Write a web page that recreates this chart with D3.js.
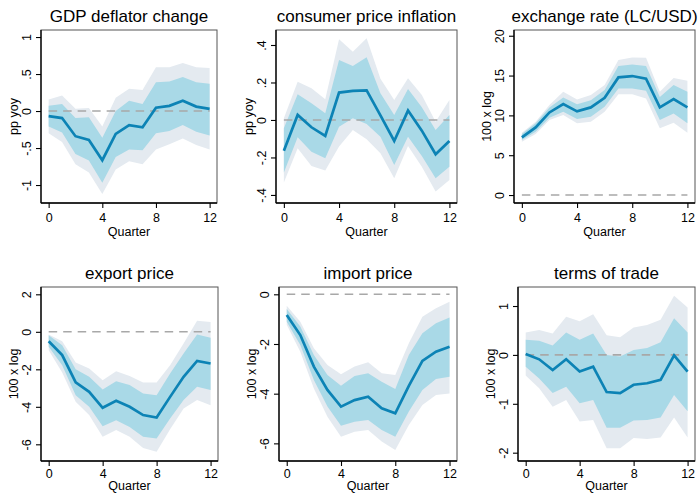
<!DOCTYPE html>
<html>
<head>
<meta charset="utf-8">
<script src="https://cdn.jsdelivr.net/npm/d3@7"></script>
<style>
  html, body { margin: 0; padding: 0; background: #fff; }
  svg { display: block; font-family: "Liberation Sans", Arial, Helvetica, sans-serif; }
</style>
</head>
<body>
<svg id="chart" width="700" height="494"></svg>
<script>
// Impulse responses: median with 68% and 90% bands, quarters 0..12
const quarters = [0, 1, 2, 3, 4, 5, 6, 7, 8, 9, 10, 11, 12];
const xTicks = [0, 4, 8, 12];

const titles = ["GDP deflator change", "consumer price inflation", "exchange rate (LC/USD)",
                "export price", "import price", "terms of trade"];
const yTitles = ["pp yoy", "pp yoy", "100 x log", "100 x log", "100 x log", "100 x log"];

// GDP deflator change
const gdpMid  = [-0.07, -0.095, -0.34, -0.39, -0.665, -0.31, -0.19, -0.22, 0.045, 0.07, 0.14, 0.06, 0.03];
const gdpHi68 = [0.07, 0.095, -0.095, -0.085, -0.36, 0.0, 0.14, 0.095, 0.39, 0.40, 0.46, 0.39, 0.37];
const gdpLo68 = [-0.21, -0.29, -0.58, -0.67, -0.97, -0.62, -0.52, -0.53, -0.30, -0.27, -0.19, -0.28, -0.33];
const gdpHi90 = [0.155, 0.21, 0.03, 0.04, -0.21, 0.18, 0.30, 0.285, 0.59, 0.59, 0.65, 0.59, 0.58];
const gdpLo90 = [-0.30, -0.42, -0.72, -0.83, -1.12, -0.79, -0.68, -0.72, -0.52, -0.45, -0.37, -0.46, -0.52];

// consumer price inflation
const cpiMid  = [-0.164, 0.027, -0.039, -0.085, 0.146, 0.155, 0.158, 0.025, -0.112, 0.05, -0.057, -0.183, -0.112];
const cpiHi68 = [-0.044, 0.137, 0.089, 0.036, 0.32, 0.288, 0.334, 0.142, 0.027, 0.165, 0.068, -0.053, 0.027];
const cpiLo68 = [-0.28, -0.092, -0.169, -0.204, -0.036, 0.009, -0.021, -0.089, -0.24, -0.089, -0.192, -0.311, -0.249];
const cpiHi90 = [0.009, 0.204, 0.169, 0.11, 0.43, 0.364, 0.436, 0.22, 0.107, 0.222, 0.133, -0.009, 0.107];
const cpiLo90 = [-0.334, -0.151, -0.245, -0.27, -0.142, -0.053, -0.103, -0.178, -0.311, -0.139, -0.249, -0.382, -0.32];

// exchange rate (LC/USD)
const fxMid  = [7.24, 8.49, 10.37, 11.42, 10.5, 11.0, 12.2, 14.77, 14.94, 14.6, 11.0, 12.05, 11.0];
const fxHi68 = [7.66, 9.0, 11.0, 12.26, 11.4, 11.9, 13.2, 16.2, 16.4, 16.2, 12.3, 13.8, 12.97];
const fxLo68 = [6.9, 7.95, 9.7, 10.46, 9.54, 9.83, 11.09, 13.39, 13.39, 13.1, 9.41, 10.25, 9.0];
const fxHi90 = [7.82, 9.2, 11.3, 12.97, 12.0, 12.55, 13.8, 16.95, 17.28, 17.24, 12.97, 14.7, 14.35];
const fxLo90 = [6.69, 7.66, 9.41, 10.04, 9.0, 9.2, 10.46, 12.64, 12.64, 12.13, 8.37, 9.08, 7.82];

// export price
const expMid  = [-0.5, -1.24, -2.7, -3.2, -4.05, -3.68, -4.0, -4.44, -4.57, -3.47, -2.4, -1.55, -1.69];
const expHi68 = [-0.18, -0.71, -2.0, -2.4, -3.08, -2.63, -2.84, -3.29, -3.38, -2.22, -1.16, -0.14, -0.32];
const expLo68 = [-0.8, -1.78, -3.38, -4.0, -5.03, -4.71, -5.07, -5.6, -5.69, -4.62, -3.64, -2.93, -3.1];
const expHi90 = [-0.14, -0.5, -1.64, -1.96, -2.58, -2.1, -2.35, -2.7, -2.7, -1.78, -0.62, 0.59, 0.53];
const expLo90 = [-0.98, -2.17, -3.73, -4.44, -5.6, -5.24, -5.6, -6.19, -6.4, -5.19, -4.09, -3.64, -3.91];

// import price
const impMid  = [-0.83, -1.64, -2.91, -3.85, -4.52, -4.26, -4.12, -4.59, -4.79, -3.69, -2.68, -2.31, -2.11];
const impHi68 = [-0.59, -1.3, -2.44, -3.25, -3.68, -3.29, -3.18, -3.52, -3.81, -2.44, -1.57, -1.17, -0.93];
const impLo68 = [-1.1, -2.04, -3.45, -4.52, -5.29, -5.13, -5.06, -5.46, -5.73, -4.72, -3.85, -3.41, -3.32];
const impHi90 = [-0.46, -1.1, -2.17, -2.85, -3.22, -2.91, -2.74, -3.18, -3.25, -1.97, -0.9, -0.56, -0.3];
const impLo90 = [-1.23, -2.31, -3.79, -4.93, -5.73, -5.53, -5.46, -5.93, -6.27, -5.26, -4.46, -4.05, -3.99];

// terms of trade
const totMid  = [0.02, -0.09, -0.31, -0.09, -0.34, -0.24, -0.76, -0.78, -0.61, -0.58, -0.51, -0.01, -0.34];
const totHi68 = [0.31, 0.29, 0.19, 0.46, 0.31, 0.44, 0.0, -0.03, 0.1, 0.14, 0.26, 0.75, 0.46];
const totLo68 = [-0.24, -0.48, -0.78, -0.65, -0.99, -0.92, -1.49, -1.49, -1.34, -1.33, -1.28, -0.82, -1.15];
const totHi90 = [0.46, 0.51, 0.44, 0.78, 0.69, 0.83, 0.40, 0.36, 0.56, 0.61, 0.72, 1.21, 0.97];
const totLo90 = [-0.42, -0.68, -1.06, -0.92, -1.36, -1.33, -1.91, -1.91, -1.70, -1.72, -1.69, -1.28, -1.69];

// y-axis ticks and their labels
const gdpTicks = [-1, -0.5, 0, 0.5, 1];
const gdpTickLabels = ["-1", "-.5", "0", ".5", "1"];
const cpiTicks = [-0.4, -0.2, 0, 0.2, 0.4];
const cpiTickLabels = ["-.4", "-.2", "0", ".2", ".4"];
const fxTicks = [0, 5, 10, 15, 20];
const fxTickLabels = ["0", "5", "10", "15", "20"];
const expTicks = [-6, -4, -2, 0, 2];
const expTickLabels = ["-6", "-4", "-2", "0", "2"];
const impTicks = [-6, -4, -2, 0];
const impTickLabels = ["-6", "-4", "-2", "0"];
const totTicks = [-2, -1, 0, 1];
const totTickLabels = ["-2", "-1", "0", "1"];

const panels = [
  { mid: gdpMid, hi68: gdpHi68, lo68: gdpLo68, hi90: gdpHi90, lo90: gdpLo90, ticks: gdpTicks, labels: gdpTickLabels },
  { mid: cpiMid, hi68: cpiHi68, lo68: cpiLo68, hi90: cpiHi90, lo90: cpiLo90, ticks: cpiTicks, labels: cpiTickLabels },
  { mid: fxMid,  hi68: fxHi68,  lo68: fxLo68,  hi90: fxHi90,  lo90: fxLo90,  ticks: fxTicks,  labels: fxTickLabels },
  { mid: expMid, hi68: expHi68, lo68: expLo68, hi90: expHi90, lo90: expLo90, ticks: expTicks, labels: expTickLabels },
  { mid: impMid, hi68: impHi68, lo68: impLo68, hi90: impHi90, lo90: impLo90, ticks: impTicks, labels: impTickLabels },
  { mid: totMid, hi68: totHi68, lo68: totLo68, hi90: totHi90, lo90: totLo90, ticks: totTicks, labels: totTickLabels }
];

// plot-region frames, vertical extents and x-label offsets for each panel
const layout = [
  { x0: 41,  x1: 217, y0: 30,  y1: 203, yMin: -1.243, yMax: 1.095, pad: 5, qOff: 33 },
  { x0: 276, x1: 457, y0: 30,  y1: 203, yMin: -0.443, yMax: 0.48,  pad: 5, qOff: 33 },
  { x0: 514, x1: 695, y0: 30,  y1: 203, yMin: -1.0,   yMax: 20.72, pad: 5, qOff: 33 },
  { x0: 41,  x1: 218, y0: 287, y1: 461, yMin: -6.89,  yMax: 2.39,  pad: 3, qOff: 29 },
  { x0: 279, x1: 457, y0: 287, y1: 461, yMin: -6.71,  yMax: 0.294, pad: 3, qOff: 29 },
  { x0: 518, x1: 695, y0: 287, y1: 461, yMin: -2.17,  yMax: 1.389, pad: 3, qOff: 29 }
];

const colLine = "#0c83b5";
const col68 = "#a9d9e7";
const col90 = "#e4eaf0";
const colZero = "#a8a8a8";

const svg = d3.select("#chart");

panels.forEach((p, i) => {
  const L = layout[i];
  const x = d3.scaleLinear().domain([-0.57, 12.55]).range([L.x0, L.x1]);
  const y = d3.scaleLinear().domain([L.yMin, L.yMax]).range([L.y1, L.y0]);
  const g = svg.append("g");

  const band = (lo, hi) => d3.area()
    .x((d, k) => x(quarters[k]))
    .y0((d, k) => y(lo[k]))
    .y1((d, k) => y(hi[k]));

  g.append("path").datum(quarters).attr("d", band(p.lo90, p.hi90)).attr("fill", col90);
  g.append("path").datum(quarters).attr("d", band(p.lo68, p.hi68)).attr("fill", col68);

  // zero reference line
  g.append("line")
    .attr("x1", x(0)).attr("x2", x(12))
    .attr("y1", y(0)).attr("y2", y(0))
    .attr("stroke", colZero).attr("stroke-width", 1.6)
    .attr("stroke-dasharray", "8.5,6");

  // median response
  g.append("path").datum(p.mid)
    .attr("d", d3.line().x((d, k) => x(quarters[k])).y(d => y(d)))
    .attr("fill", "none").attr("stroke", colLine).attr("stroke-width", 2.7)
    .attr("stroke-linejoin", "miter");

  // plot frame (top and right)
  g.append("rect")
    .attr("x", L.x0).attr("y", L.y0)
    .attr("width", L.x1 - L.x0).attr("height", L.y1 - L.y0)
    .attr("fill", "none").attr("stroke", "#555").attr("stroke-width", 1);

  // x axis
  const xAxis = d3.axisBottom(x).tickValues(xTicks).tickSize(5).tickPadding(L.pad).tickSizeOuter(0);
  const gx = g.append("g").attr("transform", `translate(0,${L.y1})`).call(xAxis);
  gx.select(".domain").attr("d", `M${L.x0},0H${L.x1}`).attr("stroke", "#000").attr("stroke-width", 1.3);
  gx.selectAll(".tick line").attr("stroke", "#000").attr("stroke-width", 1.1);
  gx.selectAll(".tick text").attr("font-size", 12.5).attr("fill", "#000")
    .attr("font-family", "Liberation Sans, Arial, sans-serif");

  // y axis with vertical tick labels
  const yAxis = d3.axisLeft(y).tickValues(p.ticks).tickSize(5)
    .tickFormat((d, k) => p.labels[k]).tickSizeOuter(0);
  const gy = g.append("g").attr("transform", `translate(${L.x0},0)`).call(yAxis);
  gy.select(".domain").attr("d", `M0,${L.y0}V${L.y1}`).attr("stroke", "#000").attr("stroke-width", 1.3);
  gy.selectAll(".tick line").attr("stroke", "#000").attr("stroke-width", 1.1);
  gy.selectAll(".tick text")
    .attr("font-size", 12.5).attr("fill", "#000")
    .attr("font-family", "Liberation Sans, Arial, sans-serif")
    .attr("x", null).attr("dy", null)
    .attr("text-anchor", "middle")
    .attr("transform", "translate(-10,0) rotate(-90)");

  // panel title
  g.append("text")
    .attr("x", (L.x0 + L.x1) / 2).attr("y", L.y0 - 8)
    .attr("text-anchor", "middle").attr("font-size", 17).attr("fill", "#000")
    .text(titles[i]);

  // axis titles
  g.append("text")
    .attr("x", (L.x0 + L.x1) / 2).attr("y", L.y1 + L.qOff)
    .attr("text-anchor", "middle").attr("font-size", 12.5).attr("fill", "#000")
    .text("Quarter");

  g.append("text")
    .attr("transform", `translate(${L.x0 - 23},${(L.y0 + L.y1) / 2}) rotate(-90)`)
    .attr("text-anchor", "middle").attr("font-size", 12.5).attr("fill", "#000")
    .text(yTitles[i]);
});
</script>
</body>
</html>
